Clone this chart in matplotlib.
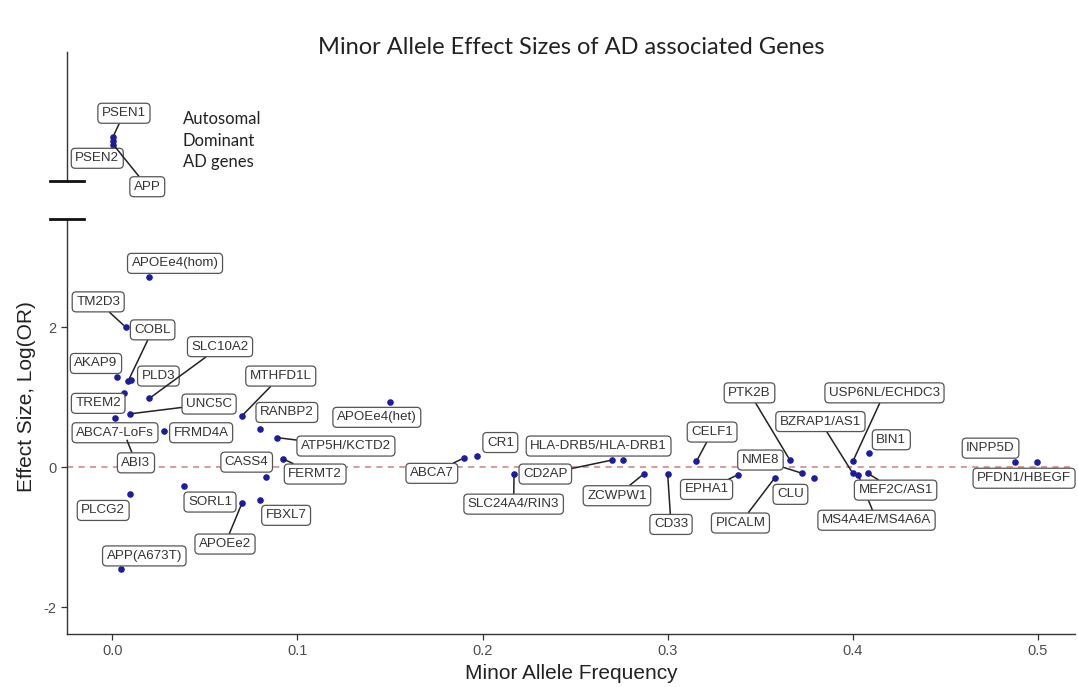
import matplotlib
matplotlib.use("Agg")
import matplotlib.pyplot as plt
from matplotlib.lines import Line2D

# autosomal dominant genes (drawn in the upper, broken-off panel)
ad_genes = ["PSEN1", "PSEN2", "APP"]
ad_maf = [0.0004, 0.0002, 0.0006]
ad_level = [0.34, 0.31, 0.28]

# risk / protective variants
genes = ["APOEe4(hom)", "TM2D3", "AKAP9", "COBL", "PLD3", "TREM2", "ABCA7-LoFs",
         "UNC5C", "SLC10A2", "MTHFD1L", "FRMD4A", "RANBP2", "ATP5H/KCTD2", "ABI3",
         "CASS4", "FERMT2", "PLCG2", "SORL1", "APOEe2", "FBXL7", "APP(A673T)",
         "APOEe4(het)", "ABCA7", "CR1", "SLC24A4/RIN3", "CD2AP", "HLA-DRB5/HLA-DRB1",
         "ZCWPW1", "CD33", "CELF1", "EPHA1", "PTK2B", "NME8", "CLU", "PICALM",
         "USP6NL/ECHDC3", "BIN1", "BZRAP1/AS1", "MS4A4E/MS4A6A", "MEF2C/AS1",
         "INPP5D", "PFDN1/HBEGF"]
maf = [0.0198, 0.0072, 0.0027, 0.0086, 0.0099, 0.0065, 0.0015,
       0.0096, 0.020, 0.070, 0.028, 0.080, 0.089, 0.0074,
       0.083, 0.092, 0.0096, 0.039, 0.070, 0.080, 0.0045,
       0.150, 0.190, 0.197, 0.217, 0.270, 0.276,
       0.287, 0.300, 0.3155, 0.338, 0.366, 0.3727, 0.379, 0.358,
       0.400, 0.409, 0.400, 0.403, 0.408,
       0.4876, 0.4993]
log_or = [2.71, 2.00, 1.29, 1.23, 1.25, 1.06, 0.70,
          0.76, 0.98, 0.73, 0.51, 0.55, 0.42, 0.42,
          -0.14, 0.12, -0.39, -0.27, -0.52, -0.47, -1.46,
          0.93, 0.13, 0.16, -0.10, 0.10, 0.10,
          -0.10, -0.10, 0.08, -0.11, 0.10, -0.09, -0.16, -0.15,
          0.08, 0.20, -0.09, -0.12, -0.09,
          0.07, 0.07]

# label placement (repelled positions)
ad_label_xy = [(0.0063, 0.524), (-0.0081, 0.174), (0.0189, -0.047)]
label_xy = [(0.0339, 2.91), (-0.0076, 2.36), (-0.0088, 1.48), (0.0218, 1.96),
            (0.0249, 1.30), (-0.0076, 0.91), (0.0015, 0.49), (0.0523, 0.90),
            (0.0582, 1.72), (0.091, 1.30), (0.048, 0.49), (0.0943, 0.78),
            (0.1262, 0.30), (0.0128, 0.06), (0.0726, 0.07), (0.1096, -0.10),
            (-0.0049, -0.62), (0.0528, -0.50), (0.0609, -1.10), (0.0939, -0.69),
            (0.0173, -1.27), (0.1429, 0.71), (0.1726, -0.09), (0.2096, 0.35),
            (0.2168, -0.53), (0.2339, -0.10), (0.2627, 0.30), (0.2726, -0.41),
            (0.3018, -0.82), (0.324, 0.50), (0.321, -0.32), (0.3442, 1.06),
            (0.3501, 0.10), (0.3663, -0.39), (0.3393, -0.80), (0.4171, 1.06),
            (0.4208, 0.39), (0.3825, 0.65), (0.4128, -0.76), (0.4231, -0.33),
            (0.4744, 0.27), (0.4925, -0.16)]
with_segment = {"PSEN1", "APP", "TM2D3", "COBL", "SLC10A2", "MTHFD1L", "UNC5C",
                "ATP5H/KCTD2", "FERMT2", "ABI3", "APOEe2", "ABCA7", "CD2AP",
                "SLC24A4/RIN3", "ZCWPW1", "CD33", "CELF1", "EPHA1", "PTK2B", "NME8",
                "PICALM", "USP6NL/ECHDC3", "BZRAP1/AS1", "MS4A4E/MS4A6A", "MEF2C/AS1"}

point_color = "#1c1ca0"
line_color = "#333333"
text_grey = "#4d4d4d"
label_font = ["Liberation Sans", "DejaVu Sans"]

fig = plt.figure(figsize=(10.78, 6.87), dpi=100)
left, width = 0.0619, 0.9353
ax_top = fig.add_axes([left, 0.737, width, 0.1873])
ax = fig.add_axes([left, 0.0771, width, 0.6037])
xlim = (-0.0246, 0.520)


def add_label(axis, name, x, y, pos):
    arrow = None
    if name in with_segment:
        arrow = dict(arrowstyle="-", color="#222222", lw=1.1, shrinkA=0, shrinkB=2)
    axis.annotate(name, xy=(x, y), xytext=pos, ha="center", va="center",
                  fontsize=9.6, family=label_font, color="#333333",
                  bbox=dict(boxstyle="round,pad=0.3,rounding_size=0.3", fc="white",
                            ec="#555555", lw=0.9),
                  arrowprops=arrow, annotation_clip=False, zorder=4)


# upper panel
ax_top.scatter(ad_maf, ad_level, s=14, color=point_color, zorder=2)
for name, x, y, pos in zip(ad_genes, ad_maf, ad_level, ad_label_xy):
    add_label(ax_top, name, x, y, pos)
ax_top.text(0.038, 0.31, "Autosomal\nDominant\nAD genes", fontsize=12,
            family=["Lato", "DejaVu Sans"], color="#222222", va="center", ha="left",
            linespacing=1.42)
ax_top.set_xlim(*xlim)
ax_top.set_ylim(0, 1)
for s in ["top", "right", "bottom"]:
    ax_top.spines[s].set_visible(False)
ax_top.spines["left"].set_color(line_color)
ax_top.spines["left"].set_linewidth(1.0)
ax_top.set_xticks([])
ax_top.set_yticks([])

# lower panel
ax.axhline(0, color="#d08080", lw=1.1, dashes=(4, 3.5), zorder=0)
ax.scatter(maf, log_or, s=14, color=point_color, zorder=2)
for name, x, y, pos in zip(genes, maf, log_or, label_xy):
    add_label(ax, name, x, y, pos)
ax.set_xlim(*xlim)
ax.set_ylim(-2.386, 3.54)
ax.set_xticks([0.0, 0.1, 0.2, 0.3, 0.4, 0.5])
ax.set_xticklabels(["0.0", "0.1", "0.2", "0.3", "0.4", "0.5"])
ax.set_yticks([-2, 0, 2])
ax.set_yticklabels(["-2", "0", "2"])
for s in ["top", "right"]:
    ax.spines[s].set_visible(False)
for s in ["left", "bottom"]:
    ax.spines[s].set_color(line_color)
    ax.spines[s].set_linewidth(1.0)
ax.tick_params(length=4, width=0.9, color=line_color, labelcolor=text_grey,
               labelsize=10.5)
for t in ax.get_xticklabels() + ax.get_yticklabels():
    t.set_family(label_font)

ax.set_xlabel("Minor Allele Frequency", fontsize=15, family=label_font,
              color="#222222", labelpad=4)
fig.text(27 / 1078, 1 - 397 / 687, "Effect Size, Log(OR)", rotation=90,
         fontsize=15, family=label_font, color="#222222", ha="center", va="center")

fig.text(0.53, 0.931, "Minor Allele Effect Sizes of AD associated Genes",
         fontsize=17, family=["Lato", "DejaVu Sans"], color="#222222",
         ha="center", va="center")

# axis break marks
for yb in [1 - 180.7 / 687, 1 - 219.3 / 687]:
    fig.add_artist(Line2D([50 / 1078, 83.5 / 1078], [yb, yb], color="#111111",
                          lw=2.0, transform=fig.transFigure))

fig.savefig("out.png", dpi=100)
